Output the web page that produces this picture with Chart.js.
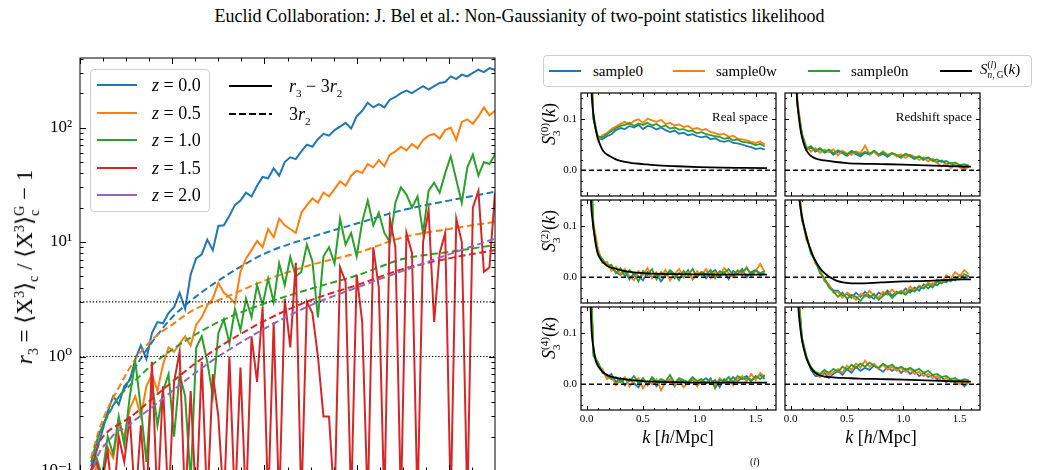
<!DOCTYPE html>
<html lang="en">
<head>
<meta charset="utf-8">
<title>Non-Gaussianity of two-point statistics likelihood</title>
<script src="https://cdn.jsdelivr.net/npm/chart.js@4.4.1/dist/chart.umd.min.js"></script>
<style>
  body { margin: 0; width: 1039px; height: 470px; overflow: hidden; background: #fff;
         font-family: "Liberation Serif", "DejaVu Serif", serif; color: #000; position: relative; }
  canvas { position: absolute; }
  .rot { position: absolute; transform: translate(-50%, -50%) rotate(-90deg); white-space: nowrap; line-height: 1; }
  .leg { position: absolute; border: 1px solid #cccccc; border-radius: 4px; background: rgba(255,255,255,0.8); box-sizing: border-box; }
  .trait { position: absolute; height: 2px; }
  .txt { position: absolute; white-space: nowrap; line-height: 1; transform: translateY(-50%); }
  .ss { display: inline-flex; flex-direction: column; font-size: 0.62em; line-height: 1.05; vertical-align: middle; }
  sub, sup { font-size: 0.62em; line-height: 0; }
</style>
</head>
<body>

<div class="txt" style="left:0;width:1039px;text-align:center;top:16px;font-size:18px">Euclid Collaboration: J. Bel et al.: Non-Gaussianity of two-point statistics likelihood</div>

<div id="zone"></div>

<!-- labels du panneau de gauche -->
<div class="rot" style="left:27px;top:267px;font-size:23px"><i>r</i><sub>3</sub> = ⟨X<sup>3</sup>⟩<sub>c</sub> / ⟨X<sup>3</sup>⟩<span class="ss"><span>G</span><span>c</span></span> − 1</div>
<div class="leg" id="legZ" style="left:90px;top:69px;width:120px;height:143px"></div>
<div class="trait" style="left:229px;top:85px;width:43px;background:#000"></div>
<div class="txt" style="left:289px;top:86px;font-size:18px"><i>r</i><sub>3</sub> − 3<i>r</i><sub>2</sub></div>
<div class="trait" style="left:229px;top:113px;width:43px;background:repeating-linear-gradient(to right,#000 0 7px,transparent 7px 10px)"></div>
<div class="txt" style="left:289px;top:114px;font-size:18px">3<i>r</i><sub>2</sub></div>

<!-- légende du panneau de droite -->
<div class="leg" style="left:543px;top:55px;width:489px;height:32px"></div>
<div class="trait" style="left:549px;top:70px;width:32px;background:#1f77b4"></div>
<div class="txt" style="left:593px;top:71px;font-size:15px">sample0</div>
<div class="trait" style="left:673px;top:70px;width:32px;background:#ff7f0e"></div>
<div class="txt" style="left:716px;top:71px;font-size:15px">sample0w</div>
<div class="trait" style="left:808px;top:70px;width:32px;background:#2ca02c"></div>
<div class="txt" style="left:851px;top:71px;font-size:15px">sample0n</div>
<div class="trait" style="left:940px;top:70px;width:32px;background:#000"></div>
<div class="txt" style="left:980px;top:71px;font-size:15px"><i>S</i><span class="ss"><span>(<i>l</i>)</span><span><i>n</i>, G</span></span>(<i>k</i>)</div>

<div class="txt" style="left:668px;width:100px;text-align:right;top:116px;font-size:13px">Real space</div>
<div class="txt" style="left:862px;width:110px;text-align:right;top:116px;font-size:13px">Redshift space</div>

<div class="rot" style="left:551px;top:124px;font-size:18px"><i>S</i><span class="ss"><span>(0)</span><span>3</span></span>(<i>k</i>)</div>
<div class="rot" style="left:551px;top:231px;font-size:18px"><i>S</i><span class="ss"><span>(2)</span><span>3</span></span>(<i>k</i>)</div>
<div class="rot" style="left:551px;top:338px;font-size:18px"><i>S</i><span class="ss"><span>(4)</span><span>3</span></span>(<i>k</i>)</div>

<div class="txt" style="left:628px;width:100px;text-align:center;top:437px;font-size:18px"><i>k</i> [<i>h</i>/Mpc]</div>
<div class="txt" style="left:831px;width:100px;text-align:center;top:437px;font-size:18px"><i>k</i> [<i>h</i>/Mpc]</div>
<div class="txt" style="left:750px;top:462px;font-size:10px">(<i>l</i>)</div>

<script>
// ============================================================
// Panneau de gauche : r3 en fonction de x, pour chaque redshift
// ============================================================

const zLabels = ['0.0', '0.5', '1.0', '1.5', '2.0'];
const zColors = ['#1f77b4', '#ff7f0e', '#2ca02c', '#d62728', '#9467bd'];

// abscisses des courbes bruitées
const zK = [0.12,0.18,0.24,0.30,0.36,0.42,0.48,0.54,0.60,0.66,0.72,0.78,0.84,0.90,0.96,1.02,1.08,1.14,1.20,1.26,
  1.32,1.38,1.44,1.50,1.56,1.62,1.68,1.74,1.80,1.86,1.92,1.98,2.04,2.10,2.16,2.22,2.28,2.34,2.40,2.46,
  2.52,2.58,2.64,2.70,2.76,2.82,2.88,2.94,3.00,3.06,3.12,3.18,3.24,3.30,3.36,3.42,3.48,3.54,3.60,3.66,
  3.72,3.78,3.84,3.90,3.96,4.02,4.08,4.14,4.20,4.26,4.32,4.38,4.44,4.50];

// r3 - 3 r2 (traits pleins)
const r3z00 = [0.10,0.15,0.22,0.33,0.45,0.38,0.55,0.62,0.95,1.25,0.95,1.6,2.0,1.95,2.4,2.7,3.6,2.6,5.2,7.2,
  7.8,10.5,8.5,13.8,14,17,21,23,27,25,31,37,36,44,38,50,55,53,62,71,
  68,79,88,85,95,102,110,98,125,140,165,150,160,150,175,185,200,210,200,215,
  230,215,230,245,250,280,265,290,280,300,320,305,330,320];
const r3z05 = [0.08,0.11,0.09,0.16,0.13,0.25,0.2,0.35,0.45,0.3,0.55,0.7,0.5,0.85,1.2,1.1,1.3,1.5,1.25,1.9,
  2.2,2.8,3.2,4.4,3.6,3.3,2.9,5.5,7.2,8.5,10.2,9.0,13,11,16,14,13,12,18,21,
  24,22,27,25,29,34,31,38,42,40,48,45,52,46,58,62,68,63,72,66,
  78,85,88,80,95,100,78,112,118,108,125,150,128,140];
const r3z10 = [0.1,0.13,0.09,0.2,0.14,0.3,0.17,0.45,0.9,0.35,0.12,0.6,0.25,0.5,0.7,0.2,0.7,0.45,0.08,1.2,
  1.5,0.9,0.45,1.6,2.1,1.3,2.6,1.7,3.2,2.2,4.2,2.8,4.8,3.0,6.5,4.2,7.4,5.0,5.5,9.5,
  6.8,2.2,7.5,9,6.5,16,9.5,12,7.5,15,23,14,18,12,10,22,30,26,20,25,
  12,28,33,27,40,56,35,22,45,58,38,50,48,58];
const r3z15 = [0.1,0.12,0.08,0.15,0.05,0.2,0.12,0.3,0.05,0.25,0.05,0.9,0.05,0.55,0.05,0.6,1.1,0.05,0.5,0.05,
  0.9,0.05,0.7,0.3,0.05,1.0,0.05,0.8,0.05,1.5,0.6,2.7,0.05,2.0,0.05,3.2,1.2,6.6,0.05,3.0,
  2.4,1.0,0.3,0.3,0.05,6.0,4.5,0.05,5.2,2.0,0.05,9,4,0.05,16,9,0.05,12,8,0.05,
  10,19,2,8,12,0.05,16,10,0.05,20,28,5.5,6,27];

// 3 r2 (tirets)
const dashK = [0.12,0.2,0.3,0.4,0.5,0.6,0.8,1.0,1.25,1.5,2.0,2.5,3.0,3.5,4.0,4.5];
const r2z00 = [0.11,0.2,0.31,0.42,0.55,0.8,1.4,2.2,3.3,4.6,7.9,11,14.5,19,23,27.5];
const r2z05 = [0.13,0.22,0.35,0.5,0.7,0.95,1.45,1.9,2.6,3.1,4.6,6.3,8,11,13,15];
const r2z10 = [0.12,0.2,0.3,0.42,0.52,0.62,0.87,1.15,1.55,2.0,2.9,3.9,5.1,7.1,8.2,9.4];
const r2z15 = [0.1,0.17,0.22,0.25,0.28,0.32,0.44,0.6,0.87,1.2,2.05,3.1,4.2,5.8,7.2,8.5];
const r2z20 = [0.09,0.14,0.18,0.22,0.24,0.28,0.37,0.5,0.72,1.0,1.75,2.8,4.0,5.6,7.8,10.7];

const niveaux = [1, 3];
const logMajor = [0.1, 1, 10, 100];
const logMinor = [0.2,0.3,0.4,0.5,0.6,0.7,0.8,0.9,2,3,4,5,6,7,8,9,20,30,40,50,60,70,80,90,200,300,400];
const zXMajor = [0, 1, 2, 3, 4];
const zXMinor = [0.25,0.5,0.75,1.25,1.5,1.75,2.25,2.5,2.75,3.25,3.5,3.75,4.25];

// ============================================================
// Panneaux de droite : S3^(l)(k)
// ============================================================

const kNoise = [0.02,0.06,0.10,0.14,0.18,0.22,0.26,0.30,0.34,0.38,0.42,0.46,0.50,0.54,0.58,0.62,0.66,0.70,0.74,0.78,
  0.82,0.86,0.90,0.94,0.98,1.02,1.06,1.10,1.14,1.18,1.22,1.26,1.30,1.34,1.38,1.42,1.46,1.50,1.54,1.58];
const kModel = [0.015,0.02,0.03,0.04,0.05,0.06,0.08,0.1,0.13,0.16,0.2,0.25,0.3,0.4,0.5,0.6,0.8,1.0,1.2,1.4,1.6];

// l = 0, espace réel
const s0RealB = [0.30,0.10,0.062,0.060,0.066,0.070,0.078,0.082,0.080,0.086,0.083,0.088,0.080,0.086,0.084,0.079,0.083,0.078,0.074,0.077,
  0.071,0.073,0.068,0.070,0.066,0.064,0.066,0.060,0.062,0.057,0.055,0.058,0.053,0.052,0.050,0.047,0.045,0.041,0.043,0.040];
const s0RealW = [0.30,0.11,0.058,0.068,0.072,0.080,0.085,0.090,0.094,0.088,0.096,0.099,0.092,0.100,0.097,0.094,0.098,0.090,0.092,0.087,
  0.089,0.084,0.086,0.080,0.082,0.078,0.080,0.074,0.072,0.069,0.071,0.065,0.067,0.061,0.060,0.058,0.055,0.053,0.056,0.050];
const s0RealN = [0.30,0.10,0.066,0.064,0.070,0.076,0.082,0.086,0.088,0.092,0.086,0.091,0.088,0.092,0.087,0.090,0.084,0.087,0.081,0.083,
  0.079,0.080,0.076,0.077,0.072,0.074,0.070,0.068,0.066,0.065,0.061,0.063,0.058,0.060,0.055,0.054,0.052,0.049,0.051,0.046];
const s0RealG = [0.6,0.45,0.26,0.17,0.13,0.108,0.08,0.062,0.044,0.034,0.028,0.022,0.018,0.014,0.012,0.010,0.0078,0.0062,0.005,0.0045,0.004];

// l = 0, espace des redshifts
const s0RsdB = [0.30,0.13,0.068,0.040,0.044,0.036,0.041,0.034,0.038,0.030,0.036,0.033,0.028,0.035,0.031,0.027,0.034,0.030,0.036,0.028,
  0.032,0.026,0.033,0.029,0.024,0.031,0.027,0.022,0.026,0.020,0.024,0.018,0.016,0.019,0.012,0.014,0.008,0.010,0.004,0.006];
const s0RsdW = [0.30,0.135,0.07,0.046,0.036,0.043,0.034,0.040,0.035,0.041,0.029,0.038,0.032,0.030,0.037,0.033,0.048,0.031,0.036,0.029,
  0.037,0.030,0.034,0.027,0.031,0.024,0.030,0.026,0.020,0.025,0.017,0.022,0.014,0.008,0.013,0.004,0.011,0.006,0.000,0.008];
const s0RsdN = [0.30,0.125,0.072,0.042,0.047,0.038,0.043,0.036,0.040,0.033,0.039,0.035,0.031,0.038,0.034,0.030,0.036,0.032,0.038,0.031,
  0.035,0.028,0.033,0.030,0.026,0.032,0.028,0.024,0.027,0.022,0.025,0.019,0.021,0.016,0.018,0.013,0.015,0.010,0.012,0.009];
const s0RsdG = [0.6,0.45,0.3,0.21,0.165,0.13,0.09,0.065,0.043,0.032,0.025,0.021,0.019,0.016,0.014,0.013,0.012,0.011,0.0095,0.008,0.007];

// l = 2, espace réel
const s2RealB = [0.30,0.100,0.050,0.032,0.024,0.018,0.010,0.004,0.012,-0.004,0.008,0.002,-0.006,0.010,0.000,0.006,-0.008,0.004,0.012,-0.002,
  0.008,0.000,0.014,-0.004,0.006,0.010,-0.002,0.008,0.014,0.002,0.010,-0.004,0.012,0.006,0.016,0.000,0.010,0.014,0.004,0.008];
const s2RealW = [0.30,0.105,0.056,0.028,0.030,0.012,0.020,0.006,0.016,0.002,-0.006,0.012,0.004,0.018,-0.002,0.010,0.000,0.014,-0.006,0.006,
  0.016,0.002,0.010,-0.004,0.012,0.004,0.016,-0.002,0.010,0.004,0.018,0.008,0.000,0.014,0.004,0.020,0.002,0.012,0.026,0.010];
const s2RealN = [0.30,0.095,0.046,0.036,0.022,0.024,0.008,0.018,0.002,0.014,0.006,-0.008,0.012,0.004,0.016,-0.004,0.010,0.002,0.014,0.006,
  -0.006,0.012,0.004,0.016,0.000,0.010,0.006,0.014,-0.002,0.012,0.008,0.016,0.004,0.012,0.010,0.018,0.006,0.014,0.008,0.012];
const s2RealG = [0.5,0.35,0.2,0.14,0.115,0.097,0.065,0.045,0.033,0.026,0.02,0.017,0.014,0.01,0.008,0.007,0.006,0.0055,0.005,0.005,0.005];

// l = 2, espace des redshifts
const s2RsdB = [0.30,0.19,0.115,0.078,0.050,0.030,0.012,-0.004,-0.016,-0.026,-0.026,-0.036,-0.032,-0.040,-0.030,-0.038,-0.028,-0.036,-0.042,-0.030,
  -0.034,-0.026,-0.036,-0.028,-0.032,-0.022,-0.030,-0.020,-0.026,-0.014,-0.022,-0.012,-0.016,-0.006,-0.010,-0.002,-0.006,0.004,-0.002,0.002];
const s2RsdW = [0.30,0.20,0.12,0.072,0.054,0.026,0.016,-0.008,-0.014,-0.030,-0.028,-0.040,-0.030,-0.036,-0.044,-0.032,-0.038,-0.026,-0.036,-0.040,
  -0.028,-0.034,-0.024,-0.032,-0.026,-0.030,-0.018,-0.026,-0.016,-0.020,-0.010,-0.016,-0.004,-0.010,0.004,-0.002,0.010,0.002,0.014,0.006];
const s2RsdN = [0.30,0.19,0.112,0.082,0.046,0.032,0.008,-0.002,-0.020,-0.028,-0.038,-0.030,-0.042,-0.034,-0.038,-0.046,-0.034,-0.040,-0.032,-0.044,
  -0.036,-0.030,-0.040,-0.032,-0.028,-0.034,-0.024,-0.028,-0.018,-0.022,-0.014,-0.020,-0.008,-0.012,-0.004,-0.008,0.000,-0.004,0.006,0.002];
const s2RsdG = [0.6,0.5,0.35,0.27,0.22,0.19,0.147,0.118,0.088,0.064,0.04,0.021,0.008,-0.006,-0.011,-0.012,-0.01,-0.008,-0.007,-0.005,-0.004];

// l = 4, espace réel
const s4RealB = [0.30,0.060,0.040,0.026,0.014,0.020,0.004,0.012,-0.002,0.010,0.002,-0.006,0.008,0.000,0.012,-0.004,0.006,0.002,0.010,-0.004,
  0.008,0.004,0.000,0.010,-0.002,0.006,0.012,0.002,0.008,-0.006,0.010,0.004,0.014,0.006,0.012,0.016,0.008,0.012,0.018,0.010];
const s4RealW = [0.30,0.065,0.036,0.030,0.010,0.016,-0.002,0.008,0.014,-0.004,0.006,0.012,-0.008,0.006,0.000,0.010,-0.012,0.004,0.010,-0.002,
  0.008,-0.006,0.004,0.012,-0.004,0.008,0.002,0.010,-0.004,0.012,0.004,0.014,-0.002,0.010,0.016,0.006,0.020,0.008,0.022,0.014];
const s4RealN = [0.30,0.055,0.044,0.022,0.018,0.010,0.014,0.004,0.010,0.006,0.016,0.002,0.012,-0.002,0.014,0.004,0.010,0.006,0.018,0.002,
  0.012,0.008,0.004,0.014,0.006,0.010,0.002,0.012,-0.008,0.008,0.006,0.014,0.004,0.016,0.010,0.012,0.006,0.016,0.010,0.018];
const s4RealG = [0.5,0.35,0.2,0.12,0.088,0.072,0.046,0.036,0.027,0.021,0.016,0.013,0.011,0.008,0.006,0.005,0.004,0.003,0.003,0.003,0.003];

// l = 4, espace des redshifts
const s4RsdB = [0.30,0.20,0.085,0.052,0.028,0.016,0.016,0.022,0.012,0.020,0.026,0.018,0.030,0.022,0.034,0.026,0.032,0.028,0.036,0.030,
  0.024,0.034,0.026,0.032,0.022,0.030,0.020,0.026,0.016,0.022,0.014,0.018,0.010,0.014,0.004,0.010,0.002,0.008,-0.004,0.004];
const s4RsdW = [0.30,0.21,0.09,0.048,0.034,0.022,0.014,0.026,0.018,0.024,0.030,0.022,0.036,0.028,0.040,0.032,0.046,0.034,0.040,0.030,
  0.038,0.028,0.034,0.026,0.032,0.024,0.030,0.020,0.024,0.016,0.020,0.012,0.016,0.006,0.012,0.004,0.008,0.000,0.006,0.002];
const s4RsdN = [0.30,0.19,0.092,0.054,0.032,0.024,0.020,0.028,0.022,0.030,0.024,0.034,0.028,0.038,0.032,0.040,0.034,0.042,0.036,0.032,
  0.040,0.034,0.038,0.030,0.034,0.028,0.032,0.026,0.030,0.022,0.026,0.018,0.020,0.014,0.016,0.010,0.012,0.006,0.010,0.008];
const s4RsdG = [0.7,0.6,0.45,0.33,0.25,0.18,0.12,0.087,0.058,0.04,0.026,0.018,0.015,0.013,0.012,0.011,0.01,0.009,0.0075,0.006,0.005];

const kMajor = [0, 0.5, 1, 1.5];
const kMinor = [0.1,0.2,0.3,0.4,0.6,0.7,0.8,0.9,1.1,1.2,1.3,1.4,1.6];
const sMajor = [0, 0.1];
const sMinor = [-0.04,-0.02,0.02,0.04,0.06,0.08,0.12,0.14];

// ============================================================

Chart.defaults.font.family = '"Liberation Serif", "DejaVu Serif", serif';
Chart.defaults.color = '#000';

function pts(xs, ys) {
    return ys.map(function (y, i) { return { x: xs[i], y: y }; });
}

// Fixer la taille d'un axe pour placer la zone de tracé au pixel près
function fixe(taille) {
    return function (s) {
        if (s.isHorizontal()) s.height = taille; else s.width = taille;
        s.paddingTop = 0; s.paddingBottom = 0; s.paddingLeft = 0; s.paddingRight = 0;
    };
}

// Cadre et graduations vers l'intérieur, façon matplotlib
const cadre = {
    id: 'cadre',
    afterDatasetsDraw(chart, args, o) {
        const ctx = chart.ctx, a = chart.chartArea;
        const sx = chart.scales.x, sy = chart.scales.y;
        ctx.save();
        ctx.strokeStyle = '#000';
        (o.hLines || []).forEach(function (h) {
            const py = sy.getPixelForValue(h.value);
            ctx.beginPath();
            ctx.lineWidth = h.width;
            ctx.setLineDash(h.dash);
            ctx.moveTo(a.left, py);
            ctx.lineTo(a.right, py);
            ctx.stroke();
        });
        ctx.setLineDash([]);
        ctx.lineWidth = 1;
        function marques(vals, len, horiz) {
            vals.forEach(function (v) {
                ctx.beginPath();
                if (horiz) {
                    const px = Math.round(sx.getPixelForValue(v)) + 0.5;
                    if (px < a.left || px > a.right) return;
                    ctx.moveTo(px, a.top); ctx.lineTo(px, a.top + len);
                    ctx.moveTo(px, a.bottom); ctx.lineTo(px, a.bottom - len);
                } else {
                    const py = Math.round(sy.getPixelForValue(v)) + 0.5;
                    if (py < a.top || py > a.bottom) return;
                    ctx.moveTo(a.left, py); ctx.lineTo(a.left + len, py);
                    ctx.moveTo(a.right, py); ctx.lineTo(a.right - len, py);
                }
                ctx.stroke();
            });
        }
        marques(o.xMajor, o.majLen, true);
        marques(o.xMinor, o.minLen, true);
        marques(o.yMajor, o.majLen, false);
        marques(o.yMinor, o.minLen, false);
        ctx.lineWidth = o.frameWidth;
        ctx.strokeRect(a.left, a.top, a.right - a.left, a.bottom - a.top);
        ctx.restore();
    }
};

function canevas(left, top, w, h) {
    const c = document.createElement('canvas');
    c.width = w; c.height = h;
    c.style.left = left + 'px';
    c.style.top = top + 'px';
    document.getElementById('zone').appendChild(c);
    return c;
}

// ---- légende des redshifts ----
const legZ = document.getElementById('legZ');
zLabels.forEach(function (lab, i) {
    const yc = 15 + i * 27.5;
    legZ.insertAdjacentHTML('beforeend',
        '<div class="trait" style="left:6px;top:' + (yc - 1) + 'px;width:40px;background:' + zColors[i] + '"></div>' +
        '<div class="txt" style="left:61px;top:' + yc + 'px;font-size:18px"><i>z</i> = ' + lab + '</div>');
});

// ---- panneau de gauche ----
const exposants = { '-1': '⁻¹', '0': '⁰', '1': '¹', '2': '²' };
const pleins = [r3z00, r3z05, r3z10, r3z15];
const tirets = [r2z00, r2z05, r2z10, r2z15, r2z20];
const dsGauche = [];
for (let i = 4; i >= 0; i--) {
    dsGauche.push({ data: pts(dashK, tirets[i]), borderColor: zColors[i], borderWidth: 2,
        borderDash: [7, 3.5], cubicInterpolationMode: 'monotone', pointRadius: 0, clip: 0 });
    if (pleins[i]) {
        dsGauche.push({ data: pts(zK, pleins[i]), borderColor: zColors[i], borderWidth: 2,
            tension: 0, pointRadius: 0, clip: 0 });
    }
}

new Chart(canevas(0, 0, 520, 560), {
    type: 'line',
    data: { datasets: dsGauche },
    options: {
        responsive: false, animation: false, devicePixelRatio: 1,
        layout: { padding: { left: 0, top: 58, right: 25, bottom: 0 } },
        plugins: {
            legend: { display: false }, tooltip: { enabled: false },
            cadre: { xMajor: zXMajor, xMinor: zXMinor, yMajor: logMajor, yMinor: logMinor,
                majLen: 6, minLen: 3.5, frameWidth: 1,
                hLines: niveaux.map(function (v) { return { value: v, width: 1.1, dash: [1.2, 2] }; }) }
        },
        scales: {
            x: {
                type: 'linear', min: 0, max: 4.5,
                grid: { display: false, drawTicks: false }, border: { display: false },
                ticks: { padding: 6, font: { size: 17 } },
                afterBuildTicks: function (s) { s.ticks = zXMajor.map(function (v) { return { value: v }; }); },
                afterFit: fixe(89)
            },
            y: {
                type: 'logarithmic', min: 0.1, max: 405,
                grid: { display: false, drawTicks: false }, border: { display: false },
                ticks: { padding: 8, font: { size: 17 },
                    callback: function (v) { return '10' + exposants[String(Math.round(Math.log10(v)))]; } },
                afterBuildTicks: function (s) { s.ticks = logMajor.map(function (v) { return { value: v }; }); },
                afterFit: fixe(80)
            }
        }
    },
    plugins: [cadre]
});

// ---- panneaux de droite ----
const colGauche = [581, 785];
const ligneHaut = [93, 200, 307];
const panneaux = [
    [s0RealB, s0RealW, s0RealN, s0RealG], [s0RsdB, s0RsdW, s0RsdN, s0RsdG],
    [s2RealB, s2RealW, s2RealN, s2RealG], [s2RsdB, s2RsdW, s2RsdN, s2RsdG],
    [s4RealB, s4RealW, s4RealN, s4RealG], [s4RsdB, s4RsdW, s4RsdN, s4RsdG]
];

panneaux.forEach(function (p, n) {
    const ligne = Math.floor(n / 2), col = n % 2;
    const bas = ligne === 2 ? 30 : 5;
    const c = canevas(colGauche[col] - 40, ligneHaut[ligne] - 5, 245, 5 + 103 + bas);
    new Chart(c, {
        type: 'line',
        data: {
            datasets: [
                { data: pts(kModel, p[3]), borderColor: '#000', borderWidth: 1.8, cubicInterpolationMode: 'monotone', pointRadius: 0, clip: 0 },
                { data: pts(kNoise, p[2]), borderColor: zColors[2], borderWidth: 1.8, tension: 0, pointRadius: 0, clip: 0 },
                { data: pts(kNoise, p[1]), borderColor: zColors[1], borderWidth: 1.8, tension: 0, pointRadius: 0, clip: 0 },
                { data: pts(kNoise, p[0]), borderColor: zColors[0], borderWidth: 1.8, tension: 0, pointRadius: 0, clip: 0 }
            ]
        },
        options: {
            responsive: false, animation: false, devicePixelRatio: 1,
            layout: { padding: { left: 0, top: 5, right: 10, bottom: 0 } },
            plugins: {
                legend: { display: false }, tooltip: { enabled: false },
                cadre: { xMajor: kMajor, xMinor: kMinor, yMajor: sMajor, yMinor: sMinor,
                    majLen: 4, minLen: 2, frameWidth: 1.2,
                    hLines: [{ value: 0, width: 1.3, dash: [5, 3] }] }
            },
            scales: {
                x: {
                    type: 'linear', min: -0.05, max: 1.68,
                    grid: { display: false, drawTicks: false }, border: { display: false },
                    ticks: { display: ligne === 2, padding: 3, font: { size: 11 },
                        callback: function (v) { return v.toFixed(1); } },
                    afterBuildTicks: function (s) { s.ticks = kMajor.map(function (v) { return { value: v }; }); },
                    afterFit: fixe(bas)
                },
                y: {
                    type: 'linear', min: -0.05, max: 0.15,
                    grid: { display: false, drawTicks: false }, border: { display: false },
                    ticks: { display: col === 0, padding: 4, font: { size: 11 },
                        callback: function (v) { return v.toFixed(1); } },
                    afterBuildTicks: function (s) { s.ticks = sMajor.map(function (v) { return { value: v }; }); },
                    afterFit: fixe(40)
                }
            }
        },
        plugins: [cadre]
    });
});
</script>
</body>
</html>
